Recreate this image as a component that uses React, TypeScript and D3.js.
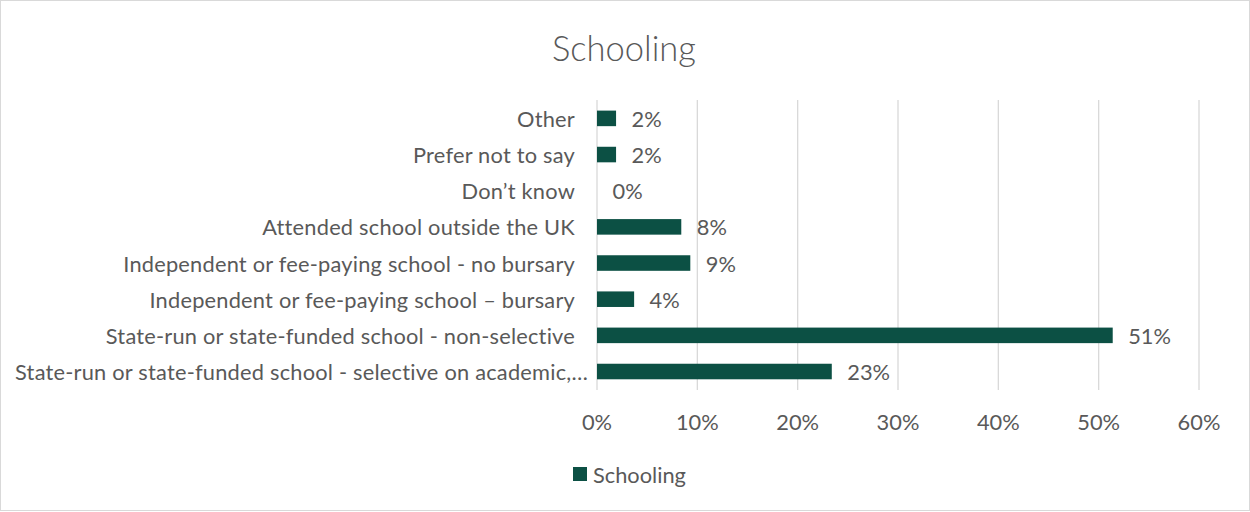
import React from "react";
import * as d3 from "d3";

const categories = [
  "Other",
  "Prefer not to say",
  "Don’t know",
  "Attended school outside the UK",
  "Independent or fee-paying school - no bursary",
  "Independent or fee-paying school – bursary",
  "State-run or state-funded school - non-selective",
  "State-run or state-funded school - selective on academic,…",
];
const values = [0.019, 0.019, 0.0, 0.084, 0.093, 0.037, 0.514, 0.234];
const valueLabels = ["2%", "2%", "0%", "8%", "9%", "4%", "51%", "23%"];
const xTicks = [0, 0.1, 0.2, 0.3, 0.4, 0.5, 0.6];
const title = "Schooling";
const seriesName = "Schooling";

const W = 1250;
const H = 512;
const FONT = "Lato, 'Open Sans', sans-serif";
const TEXT = "#595959";
const BAR = "#0c5044";
const GRID = "#d9d9d9";
const FS = 21.8;

export default function App() {
  const x = d3.scaleLinear().domain([0, 0.6]).range([597, 1199]);
  const y = d3
    .scaleBand<string>()
    .domain(categories)
    .range([100.3, 389.6])
    .paddingInner(0.57)
    .paddingOuter(0.285);
  const fmt = d3.format(".0%");

  return (
    <svg
      width={W}
      height={H}
      style={{ position: "absolute", left: 0, top: 0, background: "#fff" }}
      fontFamily={FONT}
    >
      <rect x={0.5} y={0.5} width={W - 1} height={510} fill="#fff" stroke={GRID} />
      <text
        x={624}
        y={47}
        textAnchor="middle"
        dominantBaseline="central"
        fontSize={34.5}
        fill={TEXT}
        fontWeight={300}
      >
        {title}
      </text>
      {xTicks.map((t) => (
        <g key={t}>
          <line x1={x(t)} x2={x(t)} y1={100} y2={390} stroke={GRID} strokeWidth={1.3} />
          <text
            x={x(t)}
            y={421}
            textAnchor="middle"
            dominantBaseline="central"
            fontSize={FS}
            fill={TEXT}
          >
            {fmt(t)}
          </text>
        </g>
      ))}
      {categories.map((c, i) => {
        const yc = (y(c) as number) + y.bandwidth() / 2;
        const long = i === categories.length - 1;
        return (
          <g key={c}>
            {values[i] > 0 && (
              <rect
                x={x(0)}
                y={y(c) as number}
                width={x(values[i]) - x(0)}
                height={y.bandwidth()}
                fill={BAR}
              />
            )}
            <text
              x={long ? 588 : 575}
              y={yc}
              textAnchor="end"
              dominantBaseline="central"
              fontSize={FS}
              letterSpacing={0.22}
              fill={TEXT}
            >
              {c}
            </text>
            <text
              x={x(values[i]) + 15.5}
              y={yc}
              dominantBaseline="central"
              fontSize={FS}
              fill={TEXT}
            >
              {valueLabels[i]}
            </text>
          </g>
        );
      })}
      <rect x={573} y={467} width={14} height={14} fill={BAR} />
      <text x={593} y={474} dominantBaseline="central" fontSize={FS} fill={TEXT}>
        {seriesName}
      </text>
    </svg>
  );
}
